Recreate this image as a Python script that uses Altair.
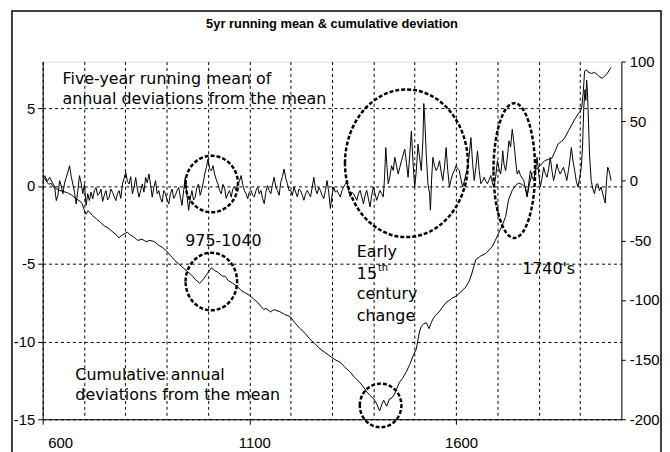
import altair as alt
import pandas as pd

# ---------------- data ----------------
# five-year running mean of annual deviations (left axis)
rm_year = [602, 605, 611, 617, 625, 629, 633, 637, 641, 645, 649, 653, 657, 661, 665, 669, 673, 677, 681, 685,
           689, 693, 697, 701, 705, 709, 713, 717, 721, 725, 729, 733, 737, 741, 745, 749, 753, 757, 761, 765,
           769, 773, 777, 781, 785, 789, 793, 797, 801, 805, 809, 813, 817, 821, 825, 829, 833, 837, 841, 845,
           849, 853, 857, 861, 865, 869, 873, 877, 881, 885, 889, 893, 897, 901, 905, 909, 913, 917, 921, 925,
           929, 933, 937, 941, 945, 949, 953, 957, 961, 965, 969, 973, 977, 981, 985, 989, 992, 996, 1000, 1004,
           1008, 1012, 1016, 1020, 1024, 1028, 1032, 1036, 1040, 1044, 1048, 1052, 1056, 1060, 1064, 1068, 1072, 1076, 1080, 1084,
           1088, 1092, 1096, 1100, 1104, 1108, 1112, 1116, 1120, 1124, 1128, 1132, 1136, 1140, 1144, 1148, 1152, 1156, 1160, 1164,
           1168, 1172, 1176, 1180, 1184, 1188, 1192, 1196, 1200, 1204, 1208, 1212, 1216, 1220, 1224, 1228, 1232, 1236, 1240, 1244,
           1248, 1252, 1256, 1260, 1264, 1268, 1272, 1276, 1280, 1284, 1288, 1292, 1296, 1300, 1304, 1308, 1312, 1316, 1320, 1324,
           1328, 1332, 1336, 1340, 1344, 1348, 1352, 1356, 1360, 1364, 1368, 1372, 1376, 1380, 1384, 1388, 1392, 1396, 1400, 1404,
           1408, 1412, 1416, 1420, 1424, 1427, 1430, 1433, 1436, 1440, 1444, 1448, 1452, 1456, 1460, 1464, 1468, 1472, 1476, 1480,
           1484, 1488, 1492, 1496, 1500, 1504, 1508, 1512, 1516, 1520, 1522, 1524, 1528, 1532, 1536, 1538, 1541, 1544, 1548, 1552,
           1556, 1560, 1564, 1568, 1572, 1576, 1580, 1584, 1588, 1592, 1596, 1600, 1604, 1608, 1612, 1616, 1620, 1624, 1628, 1632,
           1636, 1640, 1644, 1648, 1652, 1656, 1660, 1664, 1668, 1672, 1676, 1680, 1684, 1688, 1692, 1696, 1700, 1704, 1708, 1711,
           1713, 1716, 1720, 1724, 1728, 1732, 1736, 1739, 1742, 1745, 1748, 1752, 1756, 1760, 1764, 1768, 1772, 1776, 1780, 1784,
           1788, 1792, 1796, 1800, 1804, 1808, 1812, 1816, 1820, 1824, 1828, 1832, 1836, 1840, 1844, 1848, 1852, 1856, 1860, 1864,
           1868, 1872, 1876, 1879, 1883, 1887, 1891, 1895, 1899, 1903, 1906, 1909, 1912, 1914, 1916, 1918, 1920, 1923, 1927, 1931,
           1935, 1939, 1943, 1947, 1951, 1955, 1959, 1961, 1964, 1967, 1971, 1975]
rm_val = [0.5, 0.66, 0.3, 0.55, 0.13, -0.07, -0.94, -0.6, 0.34, 0.0, -0.5, 0.2, 0.55, 0.9, 1.3, 0.6, 0.13, -0.4, -1.15, -0.3,
          0.66, 0.2, -0.5, 0.1, -1.25, -0.5, -0.94, -0.4, -0.83, -0.3, -0.1, -0.6, -0.5, -0.2, -1.0, -0.6, -0.3, -0.9, -0.72, -0.2,
          -0.4, -0.7, -0.94, -0.5, -0.3, -0.8, 0.13, 0.5, 0.87, 0.3, 0.13, 0.6, -0.5, -0.1, 0.55, -0.2, -0.72, -0.3, 0.13, -0.4,
          0.55, 0.2, 0.77, 0.1, -0.72, -0.1, 0.34, -0.5, -0.3, -0.8, -1.04, -0.3, -0.5, -0.9, -1.15, -0.5, -0.2, -0.8, -0.6, -0.3,
          -0.1, -0.7, -1.25, -0.3, 0.55, -0.6, -1.57, -0.8, -0.3, -0.9, -0.72, -0.1, 0.13, -0.6, -0.2, 0.3, 0.77, 1.2, 1.72, 1.1,
          0.98, 1.3, 0.77, 0.4, 0.13, -0.3, -0.5, 0.1, -0.1, -0.8, -0.5, -0.3, -0.72, -0.2, -0.07, -0.3, 0.14, 0.3, 0.67, 0.1,
          -0.29, -0.5, -0.82, -0.4, -0.29, -0.6, -0.7, -0.3, -0.07, -0.5, -0.29, -0.8, -1.14, -0.4, 0.03, -0.3, -0.5, 0.1, 0.56, -0.1,
          -0.29, -0.6, 0.24, 0.6, 1.09, 0.5, 0.14, -0.3, -0.29, -0.6, -0.07, -0.4, -0.7, -0.2, -0.29, -0.6, -0.92, -0.5, -0.29, -0.5,
          -0.7, -0.1, 0.56, -0.2, -0.5, -0.1, -0.29, -0.6, -0.82, -0.3, 0.35, -0.4, -1.45, -0.6, -0.07, -0.4, -0.29, -0.5, -0.7, -0.3,
          -0.07, 0.1, 0.35, -0.3, -0.7, -0.4, -0.5, -0.7, -0.92, -0.5, -0.29, -0.7, -1.14, -0.6, -0.29, -0.8, -1.35, -0.6, -0.07, -0.5,
          -0.92, -0.6, -0.29, -0.5, -0.7, 0.5, 2.47, 1.2, 0.14, 0.6, 1.3, 1.0, 1.84, 1.3, 0.77, 1.2, 1.62, 2.0, 2.37, 1.5,
          0.56, 2.0, 3.53, 1.5, -0.07, 1.0, 2.69, 1.8, 0.99, 3.0, 5.3, 4.5, 2.0, 0.14, -0.5, -1.56, 0.5, 1.84, 1.3, 0.99,
          1.2, 1.62, 0.9, 0.35, 1.2, 2.47, 1.0, -0.07, 0.4, 0.77, 1.0, 1.3, 1.1, 0.99, 0.4, -0.07, 0.3, 0.77, 1.2, 2.0,
          3.11, 1.5, 0.35, 1.2, 2.26, 1.0, 0.14, 0.3, 0.56, 0.3, 0.14, 0.4, 0.67, 0.2, -0.07, 0.6, 1.62, 1.1, 0.77, 1.5,
          2.26, 1.4, 0.99, 1.8, 2.9, 2.5, 3.64, 3.0, 2.26, 1.4, 0.77, 1.0, 0.67, 0.5, 0.35, -0.2, -0.71, 0.2, 0.99, 0.6,
          0.35, 1.0, 1.84, 0.8, -0.07, 0.5, 1.2, 0.8, 0.56, 1.1, 1.84, 1.0, 0.35, 0.8, 1.41, 1.0, 0.77, 1.0, 1.2, 0.8,
          0.35, 1.0, 1.8, 2.47, 1.6, 0.99, 0.3, -0.07, 0.5, 1.2, 2.5, 5.0, 6.2, 5.5, 6.8, 6.0, 4.5, 2.0, 0.35, -0.2,
          -0.5, 0.1, 0.14, -0.3, -0.07, -0.5, -0.92, -1.1, 0.3, 1.2, 0.9, 0.35]

# cumulative annual deviations from the mean (right axis)
cum_year = [600, 605, 610, 615, 620, 625, 630, 640, 650, 660, 670, 680, 690, 695, 700, 705, 710, 715, 720, 730,
            740, 750, 760, 770, 780, 785, 790, 800, 805, 810, 820, 830, 840, 850, 860, 870, 880, 890, 900, 910,
            920, 930, 940, 950, 960, 970, 980, 985, 990, 1000, 1008, 1015, 1025, 1035, 1041, 1050, 1060, 1072, 1080, 1090,
            1100, 1110, 1120, 1127, 1135, 1140, 1151, 1160, 1175, 1185, 1199, 1210, 1223, 1235, 1247, 1260, 1271, 1283, 1295, 1307,
            1319, 1330, 1343, 1355, 1367, 1376, 1384, 1392, 1401, 1408, 1415, 1420, 1425, 1432, 1439, 1445, 1451, 1457, 1463, 1470,
            1480, 1488, 1496, 1504, 1508, 1512, 1516, 1522, 1528, 1535, 1540, 1544, 1550, 1559, 1567, 1576, 1585, 1592, 1600, 1612,
            1624, 1632, 1638, 1643, 1648, 1660, 1672, 1680, 1688, 1695, 1703, 1711, 1720, 1727, 1736, 1744, 1751, 1760, 1768, 1772,
            1778, 1784, 1792, 1799, 1807, 1815, 1824, 1832, 1840, 1847, 1855, 1863, 1872, 1880, 1888, 1895, 1900, 1904, 1908, 1911,
            1916, 1920, 1928, 1935, 1942, 1948, 1954, 1960, 1966, 1971, 1975]
cum_val = [0, 2, -1, -3, -2, -5, -6, -8, -9, -10, -12, -15, -17, -19, -24, -28, -25, -27, -29, -32,
           -35, -38, -40, -43, -46, -48, -46, -44, -43, -45, -47, -50, -49, -51, -50, -51, -54, -56, -59, -63,
           -67, -70, -73, -76, -79, -83, -86, -84, -82, -77, -73, -75, -77, -80, -80, -84, -86, -89, -92, -94,
           -96, -99, -102, -105, -108, -107, -110, -108, -110, -112, -114, -119, -124, -128, -133, -137, -141, -144, -147, -150,
           -152, -156, -160, -165, -169, -173, -177, -180, -183, -187, -193, -188, -184, -189, -183, -182, -179, -174, -169, -166,
           -160, -154, -147, -141, -133, -126, -122, -120, -119, -124, -119, -116, -113, -110, -106, -102, -100, -98, -97, -93,
           -89, -84, -78, -72, -66, -63, -61, -58, -55, -50, -44, -38, -30, -16, -8, -4, -2, -3, -6, -13,
           -2, 6, 9, 11, 14, 17, 18, 19, 25, 31, 33, 36, 42, 47, 52, 56, 58, 61, 75, 92,
           93, 91, 90, 91, 89, 87, 86, 88, 90, 93, 95]

left_ticks = [-15, -10, -5, 0, 5]
right_ticks = [-200, -150, -100, -50, 0, 50, 100]
grid_years = [600, 700, 800, 900, 1000, 1100, 1200, 1300, 1400, 1500, 1600, 1700, 1800, 1900]

title_text = "5yr running mean & cumulative deviation"

# annotations: text, year, left-axis value
notes = ["Five-year running mean of", "annual deviations from the mean", "975-1040", "Early", "15",
         "century", "change", "1740's", "Cumulative annual", "deviations from the mean"]
note_x = [648, 648, 945, 1360, 1360, 1360, 1360, 1760, 679, 679]
note_y = [6.85, 5.57, -3.54, -4.24, -5.64, -6.97, -8.38, -5.32, -12.13, -13.47]
sup_text = "th"
sup_x = 1411
sup_y = -5.3

# highlight ellipses: (year, value, half-width px, half-height px)
ell_left = [(1009, 0.13, 26.5, 28.5), (1480, 1.46, 62, 74.5), (1741, 0.99, 21, 68)]
ell_right = [(1008, -84.5, 26, 29), (1417.5, -188.4, 21, 22)]

# ---------------- chart ----------------
TICKFONT = "Liberation Sans"
NOTEFONT = "DejaVu Sans"
PLOT_W, PLOT_H = 584, 361

xscale = alt.Scale(domain=[600, 2000], nice=False, zero=False)
xaxis = alt.Axis(values=grid_years, grid=True, gridDash=[3, 3], gridColor="black", gridWidth=1, gridOpacity=1,
                 title=None, format="d", labelExpr="datum.value % 500 == 100 ? datum.label : ''",
                 tickOpacity={"condition": {"test": "datum.value % 500 == 100", "value": 1}, "value": 0},
                 tickSize=5, tickColor="black", domainColor="black", domainWidth=1,
                 labelFont=TICKFONT, labelFontSize=15, labelColor="black", labelPadding=11, labelOffset=5)

lscale = alt.Scale(domain=[-15, 8], nice=False, zero=False)
laxis = alt.Axis(values=left_ticks, grid=True, gridDash=[3, 3], gridColor="black", gridWidth=1, gridOpacity=1,
                 title=None, orient="left", tickSize=5, tickColor="black", domainColor="black", domainWidth=1,
                 labelExpr="datum.value + ''",
                 labelFont=TICKFONT, labelFontSize=15, labelColor="black", labelPadding=3)

rscale = alt.Scale(domain=[-200, 100], nice=False, zero=False)
raxis = alt.Axis(values=right_ticks, grid=False, title=None, orient="right", tickSize=4, tickColor="black",
                 labelExpr="datum.value + ''",
                 domainColor="black", domainWidth=1, labelFont=TICKFONT, labelFontSize=15, labelColor="black",
                 labelPadding=4)


def X(field="x"):
    return alt.X(f"{field}:Q", scale=xscale, axis=xaxis)


def ellipse_path(rx, ry):
    a = rx / ry
    return f"M {-a} 0 A {a} 1 0 1 1 {a} 0 A {a} 1 0 1 1 {-a} 0 Z"


one = pd.DataFrame({"k": [0]})

frame = alt.Chart(one).mark_rect(
    fillOpacity=0, stroke="black", strokeWidth=1.5
).encode(x=alt.value(-31), x2=alt.value(624), y=alt.value(-51), y2=alt.value(420))

title = alt.Chart(one).mark_text(
    align="center", baseline="middle", font="Liberation Sans", fontSize=13, fontWeight="bold", color="black"
).encode(x=alt.value(PLOT_W / 2), y=alt.value(-38), text=alt.value(title_text))

rm_df = pd.DataFrame({"x": rm_year, "y": rm_val})
rm_line = alt.Chart(rm_df).mark_line(color="black", strokeWidth=1).encode(
    x=X(), y=alt.Y("y:Q", scale=lscale, axis=laxis))

left_layers = [frame, title, rm_line]
for (ex, ey, rx, ry) in ell_left:
    left_layers.append(
        alt.Chart(pd.DataFrame({"x": [ex], "y": [ey]})).mark_point(
            shape=ellipse_path(rx, ry), size=(2 * ry) ** 2, filled=False, stroke="black",
            strokeWidth=2.5, strokeDash=[4, 2], opacity=1
        ).encode(x=X(), y=alt.Y("y:Q", scale=lscale, axis=laxis)))

notes_df = pd.DataFrame({"x": note_x, "y": note_y, "t": notes})
left_layers.append(
    alt.Chart(notes_df).mark_text(align="left", baseline="middle", font=NOTEFONT, fontSize=16, color="black").encode(
        x=X(), y=alt.Y("y:Q", scale=lscale, axis=laxis), text="t:N"))
left_layers.append(
    alt.Chart(pd.DataFrame({"x": [sup_x], "y": [sup_y], "t": [sup_text]})).mark_text(
        align="left", baseline="middle", font=NOTEFONT, fontSize=10, color="black").encode(
        x=X(), y=alt.Y("y:Q", scale=lscale, axis=laxis), text="t:N"))

left = alt.layer(*left_layers)

cum_df = pd.DataFrame({"x": cum_year, "y": cum_val})
right_layers = [alt.Chart(cum_df).mark_line(color="black", strokeWidth=1).encode(
    x=X(), y=alt.Y("y:Q", scale=rscale, axis=raxis))]
for (ex, ey, rx, ry) in ell_right:
    right_layers.append(
        alt.Chart(pd.DataFrame({"x": [ex], "y": [ey]})).mark_point(
            shape=ellipse_path(rx, ry), size=(2 * ry) ** 2, filled=False, stroke="black",
            strokeWidth=2.5, strokeDash=[4, 2], opacity=1
        ).encode(x=X(), y=alt.Y("y:Q", scale=rscale, axis=raxis)))
right = alt.layer(*right_layers)

chart = alt.layer(left, right).resolve_scale(y="independent").properties(
    width=PLOT_W, height=PLOT_H,
    autosize=alt.AutoSizeParams(type="none"),
    padding={"left": 35, "top": 52, "right": 41, "bottom": 31},
).configure_view(strokeWidth=0).configure(background="white")

chart.save("out.html", embed_options={"renderer": "svg", "actions": False})
